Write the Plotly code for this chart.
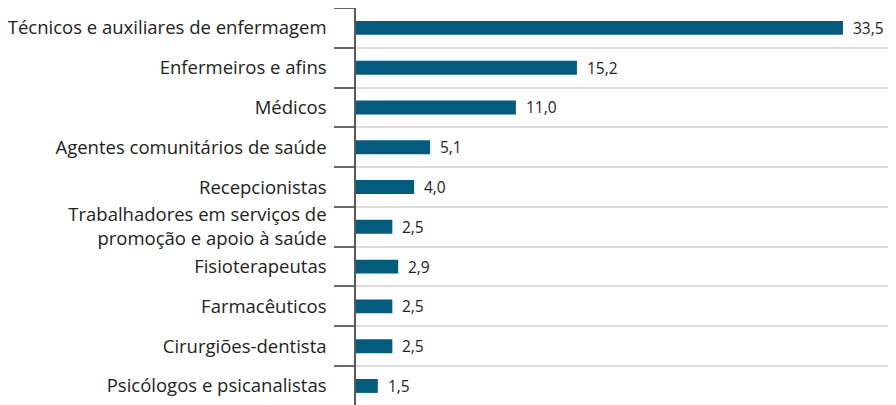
import plotly.graph_objects as go

categories = [
    "Técnicos e auxiliares de enfermagem",
    "Enfermeiros e afins",
    "Médicos",
    "Agentes comunitários de saúde",
    "Recepcionistas",
    "Trabalhadores em serviços de<br>promoção e apoio à saúde",
    "Fisioterapeutas",
    "Farmacêuticos",
    "Cirurgiões-dentista",
    "Psicólogos e psicanalistas",
]
values = [33.5, 15.2, 11.0, 5.1, 4.0, 2.5, 2.9, 2.5, 2.5, 1.5]
value_labels = [f"{v:.1f}".replace(".", ",") for v in values]
positions = list(range(len(categories)))

fig = go.Figure(go.Bar(
    x=values,
    y=positions,
    orientation="h",
    width=0.35,
    marker=dict(color="#035b7d", line=dict(width=0)),
    hoverinfo="skip",
))

for v, lab, p in zip(values, value_labels, positions):
    fig.add_annotation(
        x=v, y=p, text=lab, showarrow=False,
        xanchor="left", yanchor="middle", xshift=8,
        font=dict(family="Open Sans", size=15.5, color="#222222"),
    )

fig.update_layout(
    width=896, height=405,
    margin=dict(l=341, r=0, t=0, b=0),
    paper_bgcolor="white", plot_bgcolor="white",
    showlegend=False,
    font=dict(family="Open Sans", size=18.5, color="#222222"),
    xaxis=dict(range=[0, 37.7], visible=False, fixedrange=True),
    yaxis=dict(
        range=[9.68, -0.5],
        tickmode="array",
        tickvals=positions,
        ticktext=categories,
        ticks="",
        showgrid=False,
        zeroline=False,
        showline=True,
        linecolor="#5a5a5a",
        linewidth=1.5,
        ticklabelstandoff=24,
        tickfont=dict(family="Open Sans", size=18.5, color="#222222"),
        minor=dict(
            tick0=-0.5, dtick=1,
            ticks="outside", ticklen=20, tickwidth=1.5, tickcolor="#6a6a6a",
            showgrid=True, gridcolor="#dddddd", gridwidth=1.5,
        ),
    ),
)

fig.write_html("out.html")
